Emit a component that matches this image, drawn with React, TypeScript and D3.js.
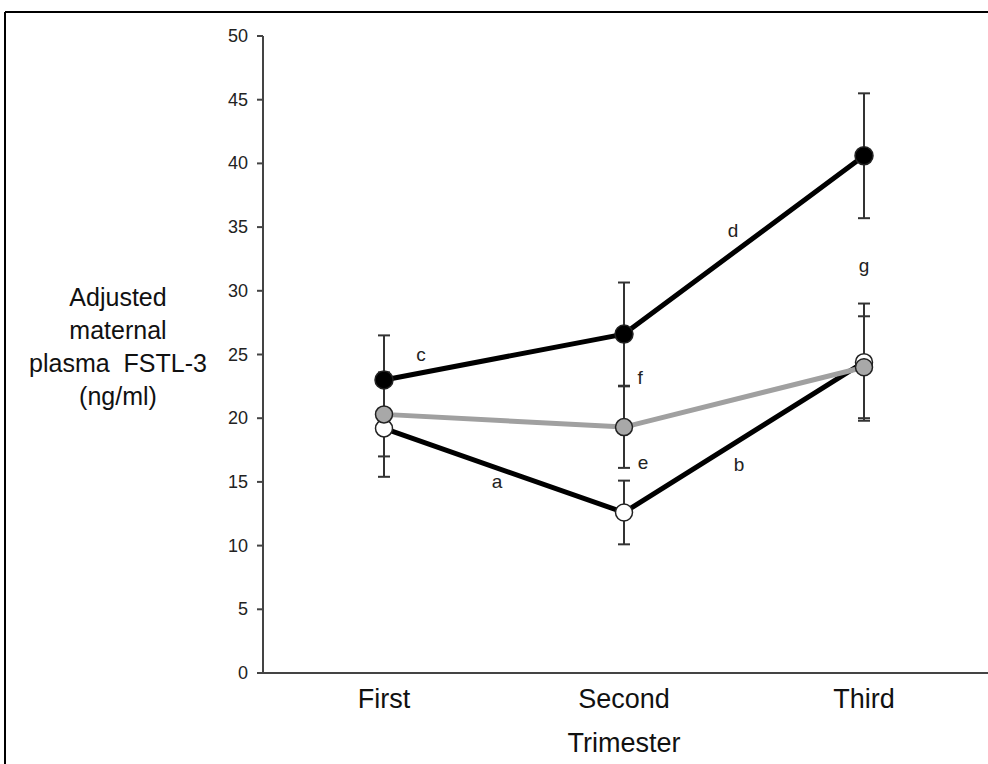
import React from "react";
import * as d3 from "d3";

const categories = ["First", "Second", "Third"];
const yTicks = [0, 5, 10, 15, 20, 25, 30, 35, 40, 45, 50];

const blackMeans = [23.0, 26.6, 40.6];
const blackErr = [3.5, 4.05, 4.9];
const grayMeans = [20.3, 19.3, 24.0];
const grayErr = [3.3, 3.2, 4.0];
const whiteMeans = [19.2, 12.6, 24.4];
const whiteErr = [3.8, 2.5, 4.6];

const annLabels = ["c", "a", "f", "e", "d", "b", "g"];
const annPos = [0.154, 0.471, 1.067, 1.079, 1.454, 1.479, 2.0];
const annValues = [25.0, 15.0, 23.2, 16.5, 34.7, 16.4, 32.0];

const yLabelLines = ["Adjusted", "maternal", "plasma  FSTL-3", "(ng/ml)"];

const W = 988;
const H = 764;
const FONT = "'Liberation Sans', Arial, sans-serif";

export default function App() {
  const x = d3.scaleBand<string>().domain(categories).range([264, 984]).padding(0);
  const xc = (c: string) => (x(c) as number) + x.bandwidth() / 2;
  const xi = d3.scaleLinear().domain([0, 2]).range([xc(categories[0]), xc(categories[2])]);
  const y = d3.scaleLinear().domain([0, 50]).range([673, 36]);
  const line = d3
    .line<number>()
    .x((_, i) => xc(categories[i]))
    .y((v) => y(v));

  const series = [
    { means: whiteMeans, err: whiteErr, line: "#000", lw: 5, fill: "#ffffff", r: 8.5 },
    { means: grayMeans, err: grayErr, line: "#a0a0a0", lw: 5, fill: "#a8a8a8", r: 8.5 },
    { means: blackMeans, err: blackErr, line: "#000", lw: 5, fill: "#000", r: 9 },
  ];

  return (
    <svg
      width={W}
      height={H}
      style={{ position: "absolute", left: 0, top: 0, background: "#fff" }}
      fontFamily={FONT}
    >
      <rect x={0} y={0} width={W} height={H} fill="#fff" />
      {/* frame */}
      <line x1={5} y1={12} x2={W} y2={12} stroke="#000" strokeWidth={2} />
      <line x1={5} y1={12} x2={5} y2={H} stroke="#000" strokeWidth={2} />

      {/* y axis */}
      <line x1={263} y1={y(50)} x2={263} y2={y(0)} stroke="#444" strokeWidth={2} />
      {yTicks.map((t) => (
        <g key={t}>
          <line x1={257} x2={263} y1={y(t)} y2={y(t)} stroke="#444" strokeWidth={2} />
          <text
            x={248}
            y={y(t)}
            textAnchor="end"
            dominantBaseline="central"
            fontSize={18}
            fill="#222"
          >
            {t}
          </text>
        </g>
      ))}
      {/* x axis */}
      <line x1={262} y1={673} x2={W} y2={673} stroke="#444" strokeWidth={2} />
      {categories.map((c) => (
        <text key={c} x={xc(c)} y={708} textAnchor="middle" fontSize={27} fill="#111">
          {c}
        </text>
      ))}
      <text x={624} y={752} textAnchor="middle" fontSize={27} fill="#111">
        Trimester
      </text>

      {/* y label */}
      {yLabelLines.map((l, i) => (
        <text
          key={i}
          x={118}
          y={306 + i * 33}
          textAnchor="middle"
          fontSize={25}
          fill="#111"
          style={{ whiteSpace: "pre" }}
        >
          {l}
        </text>
      ))}

      {/* error bars */}
      {series.map((s, si) =>
        s.means.map((m, i) => {
          const cx = xc(categories[i]);
          const top = y(m + s.err[i]);
          const bot = y(m - s.err[i]);
          return (
            <g key={`e${si}-${i}`} stroke="#333" strokeWidth={2}>
              <line x1={cx} x2={cx} y1={top} y2={bot} />
              <line x1={cx - 6} x2={cx + 6} y1={top} y2={top} />
              <line x1={cx - 6} x2={cx + 6} y1={bot} y2={bot} />
            </g>
          );
        })
      )}

      {/* lines */}
      {series.map((s, si) => (
        <path
          key={`l${si}`}
          d={line(s.means) || ""}
          fill="none"
          stroke={s.line}
          strokeWidth={s.lw}
          strokeLinejoin="round"
        />
      ))}

      {/* markers */}
      {series.map((s, si) =>
        s.means.map((m, i) => (
          <circle
            key={`m${si}-${i}`}
            cx={xc(categories[i])}
            cy={y(m)}
            r={s.r}
            fill={s.fill}
            stroke="#222"
            strokeWidth={1.5}
          />
        ))
      )}

      {/* annotations */}
      {annLabels.map((a, i) => (
        <text
          key={`a${i}`}
          x={xi(annPos[i])}
          y={y(annValues[i])}
          textAnchor="middle"
          dominantBaseline="central"
          fontSize={19}
          fill="#222"
        >
          {a}
        </text>
      ))}
    </svg>
  );
}
